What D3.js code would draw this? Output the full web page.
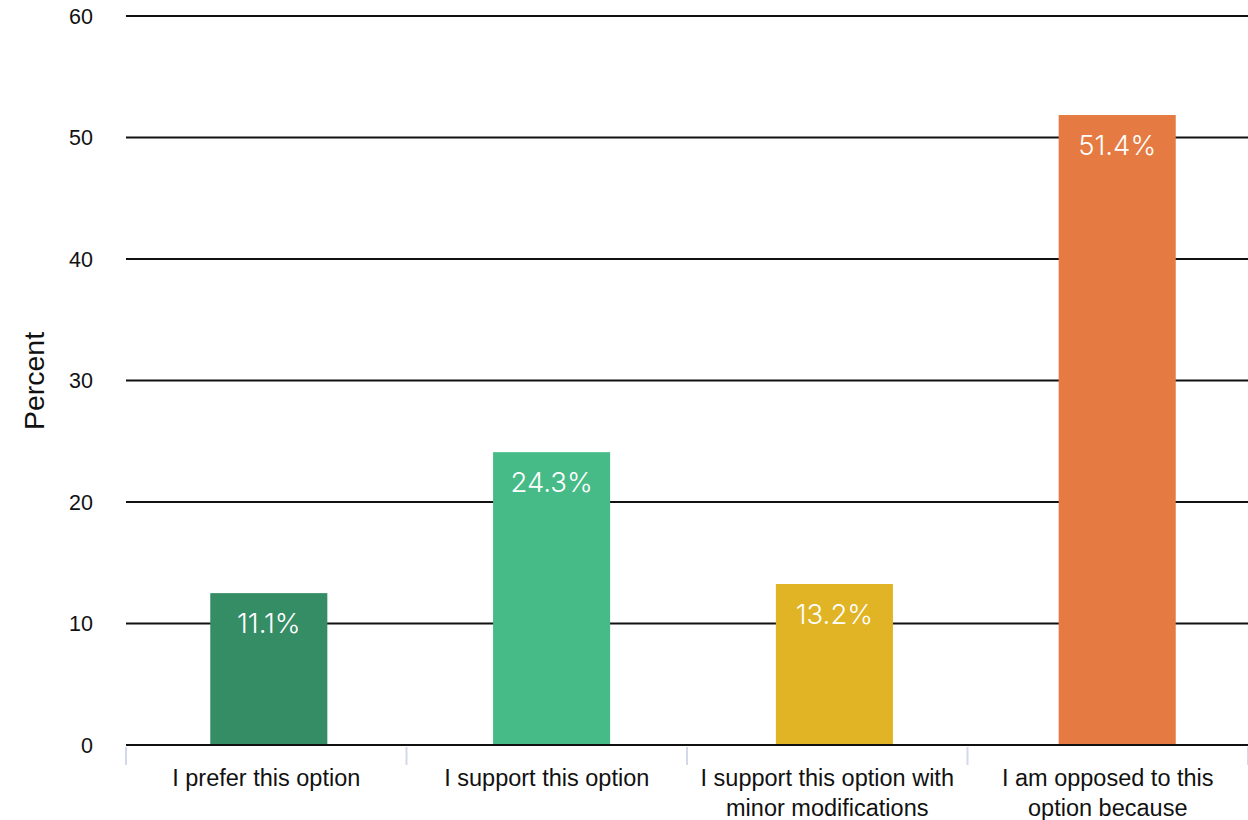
<!DOCTYPE html>
<html><head><meta charset="utf-8">
<script src="https://cdn.jsdelivr.net/npm/d3@7"></script>
<style>body{margin:0;background:#fff}svg{display:block}</style>
</head><body>
<svg id="c" width="1248" height="820"></svg>
<script>
const categories = [["I prefer this option"], ["I support this option"], ["I support this option with", "minor modifications"], ["I am opposed to this", "option because"]];
const values = [12.5, 24.1, 13.25, 51.85];
const valueLabels = ["11.1%", "24.3%", "13.2%", "51.4%"];
const colors = ["#358d66", "#46bb87", "#e0b424", "#e57b42"];
const yTicks = [0, 10, 20, 30, 40, 50, 60];

(function () {
const svg = d3.select("#c");
const mLeft = 126, mRight = 1248, mTop = 16, mBottom = 745;
const idx = d3.range(categories.length);
const xb = d3.scaleBand().domain(idx).range([mLeft, mRight]);
const x = d3.scaleBand().domain(idx).range([127.4, 1258.6]).paddingInner(0.586).paddingOuter(0.293);
const y = d3.scaleLinear().domain([0, 60]).range([mBottom, mTop]);
const sans = "Liberation Sans, Arial, Helvetica, sans-serif";

svg.append("g").selectAll("line").data(yTicks).join("line")
  .attr("x1", mLeft).attr("x2", mRight).attr("y1", d => y(d)).attr("y2", d => y(d))
  .attr("stroke", "#111").attr("stroke-width", 2.2);

svg.append("g").selectAll("text").data(yTicks).join("text")
  .attr("x", 93).attr("y", d => y(d)).attr("dy", "0.36em").attr("text-anchor", "end")
  .attr("font-family", sans).attr("font-size", 21.5).attr("fill", "#111")
  .text(d => d);

svg.append("text").attr("transform", "translate(44,381) rotate(-90)").attr("text-anchor", "middle")
  .attr("font-family", sans).attr("font-size", 28.5).attr("fill", "#111").text("Percent");

const tickPos = d3.range(categories.length + 1).map(i => mLeft + i * xb.step());
svg.append("g").selectAll("line").data(tickPos).join("line")
  .attr("x1", d => d).attr("x2", d => d).attr("y1", mBottom + 2).attr("y2", mBottom + 20)
  .attr("stroke", "#d3d9e8").attr("stroke-width", 2);

svg.append("g").selectAll("rect").data(values).join("rect")
  .attr("x", (d, i) => x(i)).attr("width", x.bandwidth())
  .attr("y", d => y(d)).attr("height", d => y(0) - y(d))
  .attr("fill", (d, i) => colors[i]);

svg.append("line").attr("x1", mLeft).attr("x2", mRight).attr("y1", y(0)).attr("y2", y(0))
  .attr("stroke", "#111").attr("stroke-width", 2.2);

svg.append("g").selectAll("text").data(values).join("text")
  .attr("x", (d, i) => x(i) + x.bandwidth() / 2).attr("y", d => y(d) + 40)
  .attr("text-anchor", "middle").attr("font-family", "Inter, Open Sans, sans-serif")
  .attr("font-weight", 300)
  .attr("font-size", 27.5).attr("fill", "#fff")
  .text((d, i) => valueLabels[i]);

const cg = svg.append("g").selectAll("text").data(categories).join("text")
  .attr("x", (d, i) => xb(i) + xb.bandwidth() / 2).attr("y", 786)
  .attr("text-anchor", "middle").attr("font-family", sans)
  .attr("font-size", 23.5).attr("fill", "#111");
cg.selectAll("tspan").data(d => d).join("tspan")
  .attr("x", function() { return this.parentNode.getAttribute("x"); })
  .attr("dy", (d, i) => i === 0 ? 0 : 30).text(d => d);
})();
</script>
</body></html>
